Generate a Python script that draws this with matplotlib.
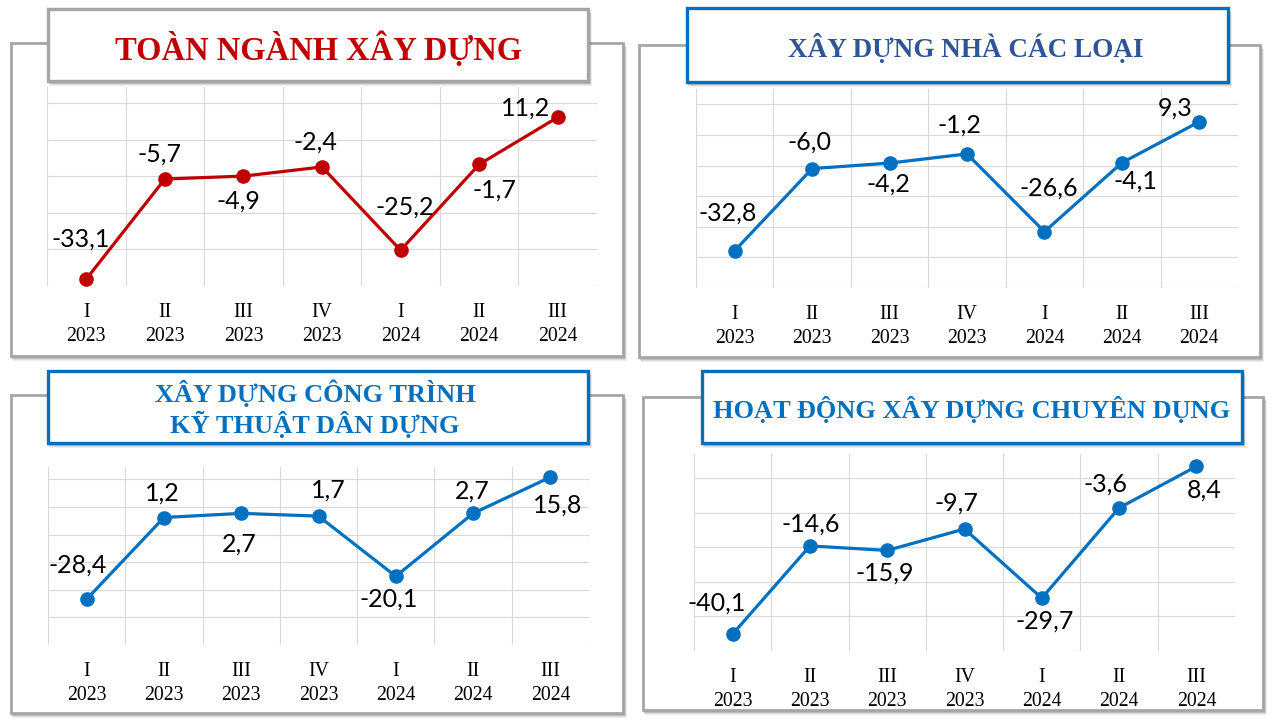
import numpy as np
import matplotlib
matplotlib.use("Agg")
import matplotlib.pyplot as plt
from matplotlib.patches import Rectangle

# --- data ---
quarters = ["I\n2023", "II\n2023", "III\n2023", "IV\n2023", "I\n2024", "II\n2024", "III\n2024"]
toan_nganh = [-33.1, -5.7, -4.9, -2.4, -25.2, -1.7, 11.2]
nha_cac_loai = [-32.8, -6.0, -4.2, -1.2, -26.6, -4.1, 9.3]
cong_trinh = [-28.4, 1.2, 2.7, 1.7, -20.1, 2.7, 15.8]
chuyen_dung = [-40.1, -14.6, -15.9, -9.7, -29.7, -3.6, 8.4]

titles = [
    ["TOÀN NGÀNH XÂY DỰNG"],
    ["XÂY DỰNG NHÀ CÁC LOẠI"],
    ["XÂY DỰNG CÔNG TRÌNH", "KỸ THUẬT DÂN DỰNG"],
    ["HOẠT ĐỘNG XÂY DỰNG CHUYÊN DỤNG"],
]
series = [toan_nganh, nha_cac_loai, cong_trinh, chuyen_dung]

# --- layout (pixels of a 1280x720 canvas) ---
RED = "#C00000"
BLUE = "#0070C0"
frames = [(11, 43, 623, 356), (639, 45, 1260, 357), (11, 395, 623, 713), (643, 397, 1263, 710)]
title_boxes = [(48, 9, 588, 81), (687, 8, 1228, 82), (48, 371, 588, 443), (702, 371, 1242, 443)]
title_edge = ["#A5A5A5", BLUE, BLUE, BLUE]
title_color = [RED, "#2F5597", BLUE, BLUE]
title_size = [23.5, 19.5, 19, 19]
title_x = [319, 966, 315, 972]
title_base = [[60], [57], [402, 433], [418]]
plot_boxes = [(47, 87, 597, 286), (696, 89, 1238, 288), (48, 467, 589, 645), (694, 454, 1235, 651)]
ylims = [(-35, 19.5), (-45, 20), (-45, 19.5), (-45, 12)]
line_color = [RED, BLUE, BLUE, BLUE]
# label offsets from point in pixels (dx, dy with y down)
label_off = [
    [(-6, -40), (-5, -25), (-5, 25), (-7, -25), (4, -43), (15, 26), (-32, -9)],
    [(-7, -38), (-3, -27), (-1, 21), (-8, -29), (4, -44), (14, 18), (-24, -14)],
    [(-9, -34), (-2, -24), (-2, 31), (10, -26), (-7, 23), (-1, -22), (7, 28)],
    [(-16, -31), (1, -22), (-2, 23), (-8, -26), (3, 23), (-14, -24), (8, 24)],
]

W, H = 1280, 720
fig = plt.figure(figsize=(12.8, 7.2), dpi=100)
fig.patch.set_facecolor("white")
bg = fig.add_axes([0, 0, 1, 1])
bg.set_xlim(0, W)
bg.set_ylim(H, 0)
bg.axis("off")


def box(x0, y0, x1, y1, edge, lw, z, shadow=4):
    for k in range(shadow, 0, -1):
        bg.add_patch(Rectangle((x0 - 1 + k * 0.6, y0 + k * 0.8), x1 - x0 + 2, y1 - y0 + 1,
                               facecolor="black", edgecolor="none", alpha=0.07, zorder=z))
    bg.add_patch(Rectangle((x0, y0), x1 - x0, y1 - y0, facecolor="white",
                           edgecolor=edge, linewidth=lw, zorder=z + 0.5))


for i in range(4):
    box(*frames[i], "#A6A6A6", 2.0, 1, shadow=5)
    box(*title_boxes[i], title_edge[i], 2.4, 3, shadow=5)
    for line, yb in zip(titles[i], title_base[i]):
        bg.text(title_x[i], yb, line, ha="center", va="baseline", fontsize=title_size[i],
                fontweight="bold", family="Liberation Serif", color=title_color[i], zorder=5)

for i in range(4):
    x0, y0, x1, y1 = plot_boxes[i]
    ax = fig.add_axes([x0 / W, 1 - y1 / H, (x1 - x0) / W, (y1 - y0) / H])
    ax.set_facecolor("none")
    ax.set_zorder(4)
    vals = series[i]
    xs = np.arange(len(vals))
    ax.plot(xs, vals, color=line_color[i], lw=2.3, marker="o", ms=9.5, zorder=3, clip_on=False)
    for x, v, (dx, dy) in zip(xs, vals, label_off[i]):
        ax.annotate(f"{v:.1f}".replace(".", ","), (x, v), xytext=(dx, -dy),
                    textcoords="offset pixels", ha="center", va="center",
                    fontsize=18, family="Lato", color="black", zorder=4, annotation_clip=False)
    ax.set_xlim(-0.5, len(vals) - 0.5)
    ax.set_ylim(*ylims[i])
    ax.set_yticks(np.arange(ylims[i][0], ylims[i][1], 10))
    ax.set_xticks(xs)
    ax.set_xticks(np.arange(-0.5, len(vals), 1), minor=True)
    ax.set_xticklabels(quarters, family="Liberation Serif", fontsize=14.2, linespacing=1.38)
    ax.tick_params(axis="x", which="both", length=0, pad=12)
    ax.tick_params(axis="y", length=0, labelleft=False)
    ax.grid(True, axis="y", which="major", color="#D9D9D9", lw=0.8)
    ax.grid(True, axis="x", which="minor", color="#D9D9D9", lw=0.8)
    for s in ax.spines.values():
        s.set_visible(False)

fig.savefig("out.png", dpi=100, facecolor="white")
